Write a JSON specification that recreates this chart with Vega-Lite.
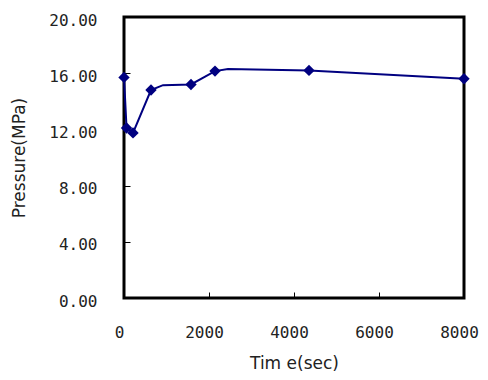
{
  "$schema": "https://vega.github.io/schema/vega-lite/v6.json",
  "width": 340,
  "height": 281,
  "autosize": "none",
  "padding": {"left": 124, "top": 17, "right": 24, "bottom": 82},
  "background": "white",
  "config": {
    "view": {"stroke": "black", "strokeWidth": 3},
    "axis": {"grid": false, "domain": false, "ticks": true, "labelFont": "DejaVu Sans Mono", "labelFontSize": 16, "labelColor": "#222", "titleFont": "DejaVu Sans", "titleFontSize": 17, "titleFontWeight": "normal", "titleColor": "#222", "tickColor": "black", "tickSize": -6, "tickWidth": 1, "labelFlush": false, "zindex": 1}
  },
  "data": {
    "values": [
      {"time": 0, "pressure": 15.7, "marker": true},
      {"time": 60, "pressure": 12.1, "marker": true},
      {"time": 212, "pressure": 11.75, "marker": true},
      {"time": 635, "pressure": 14.8, "marker": true},
      {"time": 918, "pressure": 15.15, "marker": false},
      {"time": 1576, "pressure": 15.2, "marker": true},
      {"time": 2141, "pressure": 16.15, "marker": true},
      {"time": 2447, "pressure": 16.3, "marker": false},
      {"time": 4353, "pressure": 16.2, "marker": true},
      {"time": 8000, "pressure": 15.6, "marker": true}
    ]
  },
  "encoding": {
    "x": {"field": "time", "type": "quantitative", "scale": {"domain": [0, 8000], "nice": false}, "axis": {"values": [0, 2000, 4000, 6000, 8000], "format": "d", "title": "Tim e(sec)", "labelPadding": 32, "labelOffset": -5, "titlePadding": 15}},
    "y": {"field": "pressure", "type": "quantitative", "scale": {"domain": [0, 20], "nice": false}, "axis": {"values": [0, 4, 8, 12, 16, 20], "format": ".2f", "title": "Pressure(MPa)", "labelPadding": 33, "labelOffset": 3, "titlePadding": 20}}
  },
  "layer": [
    {"mark": {"type": "line", "color": "#000080", "strokeWidth": 2}},
    {"transform": [{"filter": "datum.marker"}], "mark": {"type": "point", "shape": "diamond", "filled": true, "color": "#000080", "size": 130, "opacity": 1}}
  ]
}
